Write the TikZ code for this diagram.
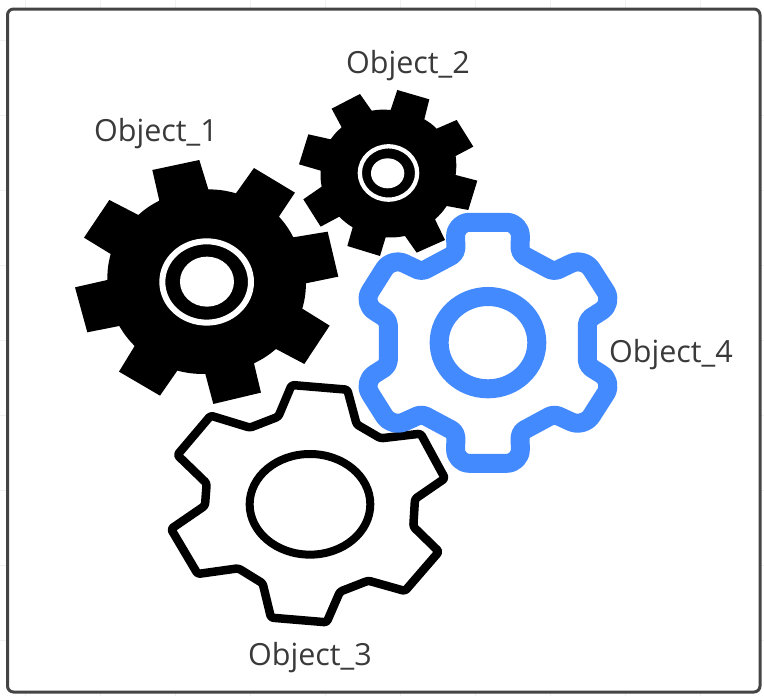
\documentclass[tikz,border=0pt]{standalone}
\usepackage{fontspec}
\setmainfont{Open Sans}
\definecolor{gearblue}{HTML}{448AFF}
\definecolor{framegray}{HTML}{444444}
\definecolor{labelgray}{HTML}{3A3A3A}
\definecolor{gridfaint}{HTML}{F1F1F1}
\tikzset{
  objlabel/.style={text=labelgray,font=\fontsize{30.5}{34}\selectfont,inner sep=0pt,anchor=base},
  outlinegear/.style={draw=black,line width=8.5pt,line join=round,fill=white,rounded corners=2.5pt},
  bluegear/.style={draw=gearblue,line width=19pt,line join=round,fill=white},
  toothr/.style={rounded corners=14pt},
  notchr/.style={rounded corners=5pt},
  solidgear/.style={fill=black},
  arcl/.style={bend left=7},
}
\begin{document}
\begin{tikzpicture}[x=1pt,y=-1pt]
\useasboundingbox (0,0) rectangle (764,696);
\fill[white] (0,0) rectangle (764,696);
\foreach \v in {25,100,175,250,325,400,475,550,625,700}{\draw[gridfaint] (\v,0)--(\v,696);}
\foreach \v in {40,115,190,265,340,415,490,565,640}{\draw[gridfaint] (0,\v)--(764,\v);}
\draw[framegray,line width=3pt,fill=white,rounded corners=6pt] (7.5,9) rectangle (760,692);
% Object_2
\begin{scope}[shift={(290,30)},x=0.3333pt,y=-0.3333pt]
\path[solidgear] (322,180)--(418,208)--(403,268) to[arcl] (440,296)--(500,270)--(550,350)--(497,378) to[arcl] (497,435)--(562,452)--(535,540)--(470,528) to[arcl] (435,568)--(465,630)--(380,668)--(345,618) to[arcl] (287,622)--(270,678)--(172,648)--(188,592) to[arcl] (148,560)--(92,590)--(40,508)--(95,470) to[arcl] (92,422)--(27,403)--(55,313)--(122,328) to[arcl] (155,292)--(125,236)--(210,192)--(245,242) to[arcl] (302,240)--cycle;
\draw[white,line width=4.3pt] (295.5,429) ellipse [x radius=86,y radius=80];
\fill[white] (293,430) ellipse [x radius=50,y radius=45];
\end{scope}
% Object_1
\begin{scope}[shift={(60,80)},x=0.3333pt,y=-0.3333pt]
\path[solidgear] (277,270)--(418,240)--(445,328) to[arcl] (528,340)--(582,264)--(705,338)--(657,410) to[arcl] (700,472)--(803,455)--(835,590)--(738,610) to[arcl] (727,686)--(809,737)--(733,852)--(648,807) to[arcl] (582,850)--(603,938)--(460,972)--(436,882) to[arcl] (352,872)--(300,947)--(177,875)--(224,798) to[arcl] (178,738)--(82,757)--(45,622)--(142,600) to[arcl] (152,522)--(72,473)--(148,360)--(235,405) to[arcl] (298,362)--cycle;
\draw[white,line width=6pt] (440,606) ellipse [x radius=133,y radius=122];
\fill[white] (441,605) ellipse [x radius=81,y radius=75];
\end{scope}
% Object_3
\begin{scope}[shift={(160,375)},x=0.3333pt,y=-0.3333pt]
\path[outlinegear] (395,30)--(562,44)--(590,148)--(662,190)--(782,176)--(855,310)--(765,372)--(760,455)--(837,530)--(735,648)--(625,617)--(540,650)--(500,742)--(333,728)--(308,625)--(235,580)--(113,597)--(33,462)--(135,392)--(140,325)--(52,240)--(152,122)--(270,158)--(355,125)--cycle;
\draw[black,line width=8pt] (450,388) ellipse [x radius=181,y radius=151];
\end{scope}
% Object_4
\begin{scope}[shift={(350,205)},x=0.3333pt,y=-0.3333pt]
\path[bluegear] (415,52) [toothr] --(512,52) [notchr] --(510,145)--(612,200) [toothr] --(702,157)--(790,295) [notchr] --(712,345)--(712,481) [toothr] --(790,530)--(702,668) [notchr] --(612,627)--(510,682) [toothr] --(512,775)--(316,775) [notchr] --(318,682)--(215,627) [toothr] --(125,668)--(38,530) [notchr] --(115,481)--(115,345) [toothr] --(38,295)--(125,157) [notchr] --(215,200)--(318,145) [toothr] --(316,52) --cycle;
\draw[gearblue,line width=19pt] (414,413) ellipse [x radius=146.5,y radius=138.5];
\end{scope}
\node[objlabel] (obj1) at (156,141) {Object\_1};
\node[objlabel] (obj2) at (408,73) {Object\_2};
\node[objlabel] (obj3) at (310,665) {Object\_3};
\node[objlabel] (obj4) at (671,362) {Object\_4};
\end{tikzpicture}
\end{document}
